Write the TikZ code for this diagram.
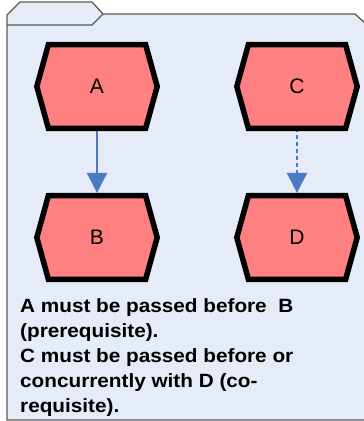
\documentclass[tikz,border=0pt]{standalone}
\usepackage{fontspec}
\setmainfont{Liberation Sans}
\newfontfamily\notefont[FakeStretch=1.08]{Liberation Sans}
\usetikzlibrary{arrows.meta}
\definecolor{folderfill}{RGB}{230,236,247}
\definecolor{folderline}{RGB}{90,90,90}
\definecolor{hexfill}{RGB}{255,128,128}
\definecolor{linkblue}{RGB}{74,122,196}
\pgfdeclarelayer{bg}
\pgfsetlayers{bg,main}
\tikzset{
  hexbox/.style={rectangle, inner sep=0pt, minimum width=120pt, minimum height=83.5pt,
    font=\fontsize{21}{24}\selectfont},
  hexline/.style={draw=black, fill=hexfill, line width=5.5pt, line join=miter},
  folder/.style={draw=folderline, fill=folderfill, line width=1.3pt, line join=miter},
  link/.style={draw=linkblue, line width=2.6pt, -{Triangle[length=20pt,width=20pt]}, shorten >=2.7pt},
  note/.style={anchor=base west, inner sep=0pt, font=\notefont\bfseries\fontsize{19.2}{25}\selectfont}
}
\begin{document}
\begin{tikzpicture}[x=1pt,y=-1pt]
\useasboundingbox (0,0) rectangle (364,421);
\node[hexbox] (A) at (97,86.5) {A};
\node[hexbox] (B) at (97,237.5) {B};
\node[hexbox] (C) at (297,86.5) {C};
\node[hexbox] (D) at (297,237.5) {D};
\begin{pgfonlayer}{bg}
  \draw[folder] (7,420) -- (7,15) -- (20,2) -- (92,2) -- (103,14) -- (355,14) -- (366,24) -- (366,420) -- cycle;
  \draw[folderline, line width=1.3pt] (7,25) -- (92,25) -- (103,14);
  \draw[link] (A.south) -- (B.north);
  \draw[link, dash pattern=on 4pt off 3pt] (C.south) -- (D.north);
  \foreach \n in {A,B,C,D}{
    \draw[hexline] (\n.west) -- ([xshift=11.6pt]\n.north west) -- ([xshift=-11.6pt]\n.north east)
      -- (\n.east) -- ([xshift=-11.6pt]\n.south east) -- ([xshift=11.6pt]\n.south west) -- cycle;
  }
\end{pgfonlayer}
\node[note] (t1) at (20,312.5) {A must be passed before\ \ B};
\node[note] (t2) at (20,337.5) {(prerequisite).};
\node[note] (t3) at (20,362.5) {C must be passed before or};
\node[note] (t4) at (20,387.5) {concurrently with D (co-};
\node[note] (t5) at (20,412) {requisite).};
\end{tikzpicture}
\end{document}
